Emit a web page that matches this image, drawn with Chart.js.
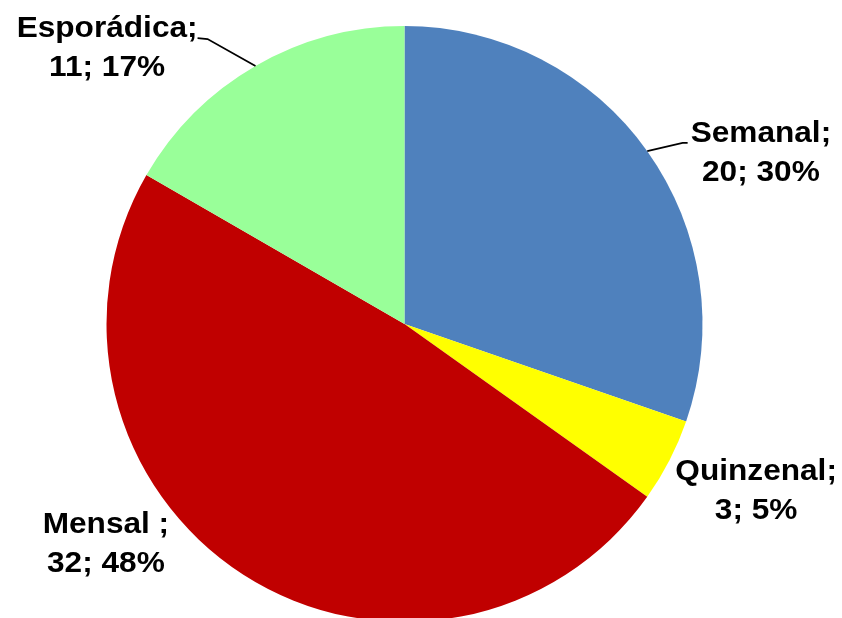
<!DOCTYPE html>
<html>
<head>
<meta charset="utf-8">
<script src="https://cdn.jsdelivr.net/npm/chart.js@4.4.1/dist/chart.umd.min.js"></script>
<style>
  html, body { margin: 0; padding: 0; background: #fff; }
  #wrap { width: 842px; height: 618px; overflow: hidden; }
</style>
</head>
<body>
<div id="wrap"><canvas id="chart" width="842" height="640"></canvas></div>
<script>
const categories = ['Semanal', 'Quinzenal', 'Mensal ', 'Esporádica'];
const counts = [20, 3, 32, 11];
const sliceColors = ['#4F81BD', '#FFFF00', '#C00000', '#99FF99'];

// label spots, relative to pie centre in units of radius (first baseline, centred text)
const labelSpots = [[1.196, -0.611], [1.180, 0.523], [-1.002, 0.701], [-0.998, -0.963]];
const leaderSide = ['left', null, null, 'right'];

const total = counts.reduce((a, b) => a + b, 0);

const labelPlugin = {
    id: 'pieLabels',
    afterDatasetsDraw(chart) {
        const ctx = chart.ctx;
        const meta = chart.getDatasetMeta(0);
        const fontSize = 29;
        const stretch = 1.09;
        const lineGap = 39;
        ctx.save();
        ctx.font = `bold ${fontSize}px "Liberation Sans", Arial, sans-serif`;
        ctx.fillStyle = '#000';
        ctx.strokeStyle = '#000';
        ctx.lineWidth = 1.8;
        meta.data.forEach((arc, i) => {
            const r = arc.outerRadius;
            const cx = arc.x + labelSpots[i][0] * r;
            const by = arc.y + labelSpots[i][1] * r;
            const line1 = categories[i] + ';';
            const line2 = counts[i] + '; ' + Math.round(counts[i] / total * 100) + '%';
            const w1 = ctx.measureText(line1).width * stretch;

            [line1, line2].forEach((t, k) => {
                ctx.save();
                ctx.translate(cx, by + k * lineGap);
                ctx.scale(stretch, 1);
                ctx.textAlign = 'center';
                ctx.fillText(t, 0, 0);
                ctx.restore();
            });

            if (leaderSide[i]) {
                const mid = (arc.startAngle + arc.endAngle) / 2;
                const px = arc.x + Math.cos(mid) * r;
                const py = arc.y + Math.sin(mid) * r;
                ctx.beginPath();
                ctx.moveTo(px, py);
                if (leaderSide[i] === 'left') {
                    const lx = cx - w1 / 2;
                    ctx.lineTo(lx - 8, by + 1);
                    ctx.lineTo(lx - 3, by + 1);
                } else {
                    const rx = cx + w1 / 2;
                    ctx.lineTo(rx + 10, by + 2);
                    ctx.lineTo(rx, by + 1);
                }
                ctx.stroke();
            }
        });
        ctx.restore();
    }
};

const chart = new Chart(document.getElementById('chart').getContext('2d'), {
    type: 'pie',
    data: {
        labels: categories,
        datasets: [{
            data: counts,
            backgroundColor: sliceColors,
            borderWidth: 0
        }]
    },
    options: {
        responsive: false,
        animation: false,
        devicePixelRatio: 1,
        layout: { padding: { top: 26, bottom: 18, left: 0, right: 33 } },
        plugins: {
            legend: { display: false },
            tooltip: { enabled: false }
        }
    },
    plugins: [labelPlugin]
});
</script>
</body>
</html>
